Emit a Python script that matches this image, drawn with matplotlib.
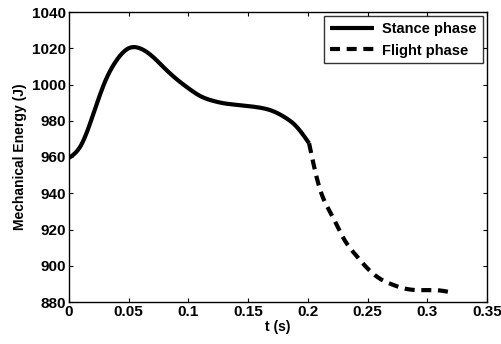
import matplotlib
matplotlib.use("Agg")
import matplotlib.pyplot as plt
import numpy as np

# stance phase samples
t_stance = [0.0, 0.01, 0.02, 0.03, 0.04, 0.05, 0.06, 0.07, 0.08, 0.09, 0.10,
            0.11, 0.12, 0.13, 0.14, 0.15, 0.16, 0.17, 0.18, 0.19, 0.201]
e_stance = [959.5, 966.4, 983.0, 1001.3, 1013.5, 1020.0, 1019.8, 1015.4, 1009.0, 1003.0, 997.9,
            993.6, 991.1, 989.6, 988.8, 988.1, 987.2, 985.5, 982.2, 977.1, 967.6]

# flight phase samples
t_flight = [0.201, 0.21, 0.22, 0.23, 0.24, 0.25, 0.26, 0.27, 0.28, 0.29, 0.30, 0.31, 0.32]
e_flight = [967.6, 942.5, 928.0, 915.0, 906.0, 898.5, 893.0, 889.8, 887.6, 886.6, 886.6, 886.4, 885.3]

xticks = [0, 0.05, 0.1, 0.15, 0.2, 0.25, 0.3, 0.35]
xticklabels = ['0', '0.05', '0.1', '0.15', '0.2', '0.25', '0.3', '0.35']
yticks = [880, 900, 920, 940, 960, 980, 1000, 1020, 1040]

plt.rcParams['font.family'] = ['Liberation Sans', 'DejaVu Sans']
plt.rcParams['font.weight'] = 'bold'

fig = plt.figure(figsize=(5.02, 3.44), dpi=100)
ax = fig.add_axes([69 / 502, 1 - 302 / 344, 418 / 502, 290 / 344])


def spline(tx, ey, n=600):
    # natural cubic spline through the read points
    x = np.asarray(tx, float)
    y = np.asarray(ey, float)
    k = len(x)
    h = np.diff(x)
    A = np.zeros((k, k))
    b = np.zeros(k)
    A[0, 0] = A[-1, -1] = 1
    for i in range(1, k - 1):
        A[i, i - 1] = h[i - 1]
        A[i, i] = 2 * (h[i - 1] + h[i])
        A[i, i + 1] = h[i]
        b[i] = 3 * ((y[i + 1] - y[i]) / h[i] - (y[i] - y[i - 1]) / h[i - 1])
    c = np.linalg.solve(A, b)
    xx = np.linspace(x[0], x[-1], n)
    idx = np.clip(np.searchsorted(x, xx) - 1, 0, k - 2)
    dx = xx - x[idx]
    bb = (y[idx + 1] - y[idx]) / h[idx] - h[idx] * (2 * c[idx] + c[idx + 1]) / 3
    dd = (c[idx + 1] - c[idx]) / (3 * h[idx])
    yy = y[idx] + bb * dx + c[idx] * dx ** 2 + dd * dx ** 3
    return xx, yy


xs, ys = spline(t_stance, e_stance)
ax.plot(xs, ys, color='black', lw=3, solid_capstyle='butt', solid_joinstyle='round',
        label='Stance phase')
xf, yf = spline(t_flight, e_flight)
ax.plot(xf, yf, color='black', lw=3, linestyle=(0, (2.4, 1.6)), dash_capstyle='butt',
        label='Flight phase')

ax.set_xlim(0, 0.35)
ax.set_ylim(880, 1040)
ax.set_xticks(xticks)
ax.set_xticklabels(xticklabels)
ax.set_yticks(yticks)
ax.tick_params(direction='in', length=3, width=0.8, top=True, right=True, labelsize=11, pad=2)
for sp in ax.spines.values():
    sp.set_linewidth(1.0)

ax.set_xlabel('t (s)', fontsize=10, fontweight='bold', labelpad=1)
ax.set_ylabel('Mechanical Energy (J)', fontsize=10, fontweight='bold', labelpad=4)

leg = ax.legend(loc='upper right', fontsize=10.5, frameon=True, fancybox=False,
                edgecolor='black', handlelength=3.0, borderpad=0.4, labelspacing=0.5,
                handletextpad=0.6, borderaxespad=0.3)
leg.get_frame().set_linewidth(1.0)
for txt in leg.get_texts():
    txt.set_fontweight('bold')

fig.savefig('out.png', dpi=100)
